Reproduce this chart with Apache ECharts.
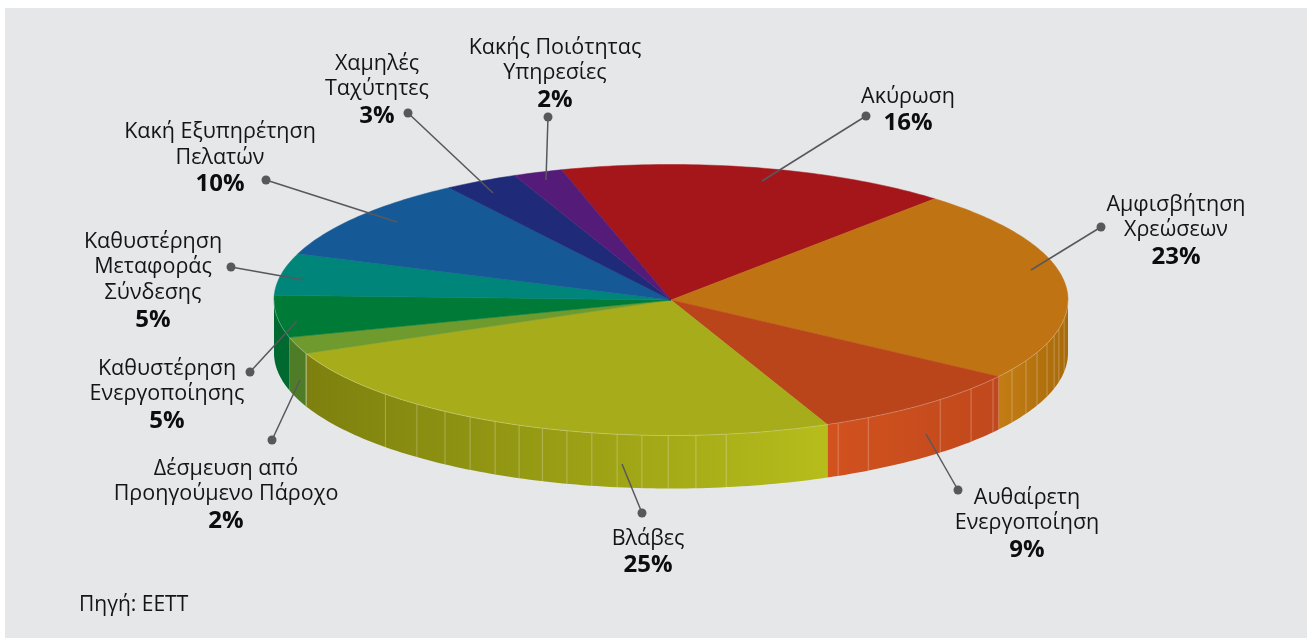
<!DOCTYPE html>
<html><head><meta charset="utf-8">
<style>html,body{margin:0;padding:0;background:#fff}#c{width:1307px;height:638px}</style>
<script src="https://cdn.jsdelivr.net/npm/echarts@6/dist/echarts.min.js"></script>
</head><body><div id="c"></div>
<script>
// Data, clockwise from the top of the pie
const categories = [
  ['Ακύρωση'],
  ['Αμφισβήτηση','Χρεώσεων'],
  ['Αυθαίρετη','Ενεργοποίηση'],
  ['Βλάβες'],
  ['Δέσμευση από','Προηγούμενο Πάροχο'],
  ['Καθυστέρηση','Ενεργοποίησης'],
  ['Καθυστέρηση','Μεταφοράς','Σύνδεσης'],
  ['Κακή Εξυπηρέτηση','Πελατών'],
  ['Χαμηλές','Ταχύτητες'],
  ['Κακής Ποιότητας','Υπηρεσίες']
];
const values = [16,23,9,25,2,5,5,10,3,2];
const sourceNote = 'Πηγή: ΕΕΤΤ';

// Style
const topColors = ['#a4161a','#bf7312','#bb451b','#a6ac1a','#6f9b2e','#007a37','#00857a','#155a96','#1f2a78','#541c78'];
const wallFrom  = ['#80100f','#a86a0a','#c0481c','#b6bd1b','#4f7d27','#00692f','#006a60','#0f4a7c','#18205f','#40155c'];
const wallTo    = ['#80100f','#c47d14','#d2521f','#7d800e','#4f7d27','#00692f','#006a60','#0f4a7c','#18205f','#40155c'];
// Decorative facet seams on the rim, in degrees clockwise from the top
const seamDeg = [98,102.3,105.2,108.7,112.8,116.6,120.8,125.8,130.9,137.3,150.2,155.1,172,176.4,180.4,184.2,187.8,191.5,195.2,198.9,202.5,206.3,210.4,214.7,219.8,226,246.8];

// Layout
const cx = 671, cy = 300, rx = 397, ry = 135.5, depth = 53, startDeg = 344;
const lineStep = 25.8;
const labelPos = [[908,96.5],[1176,204.5],[1027,497.5],[648,538.5],[226,468.5],[167,368.5],[153,241.5],[220,132],[377,63.5],[555,47.5]];
const leaders = [
  [866,116,762,181],[1101,227,1031,270],[958,490,926,434],[642,513,622,464],[272,440,300,380],
  [250,372,297,321],[231,267,304,280],[266,180,397,222],[408,113,493,193],[548,117,546,180]
];

const total = values.reduce((a,b)=>a+b,0);
const starts = [];
values.reduce((acc,v,i)=>{starts[i]=acc;return acc+v;},0);
const toDeg = v => startDeg + v/total*360;
const pt = (deg,dy) => { const r=deg*Math.PI/180; return [cx+rx*Math.sin(r), cy-ry*Math.cos(r)+(dy||0)]; };
function arc(a0,a1,dy){const n=Math.max(2,Math.ceil(Math.abs(a1-a0)/1));const o=[];for(let i=0;i<=n;i++)o.push(pt(a0+(a1-a0)*i/n,dy));return o;}

function renderItem(params, api){
  const i = params.dataIndex;
  const v = api.value(0);
  const a0 = toDeg(starts[i]), a1 = a0 + v/total*360;
  const children = [];
  // side wall (visible half only)
  [[a0,a1],[a0-360,a1-360],[a0+360,a1+360]].forEach(([s,e])=>{
    const w0=Math.max(s,90), w1=Math.min(e,270);
    if(w1<=w0) return;
    const xa=pt(w0)[0], xb=pt(w1)[0];
    const fill=new echarts.graphic.LinearGradient(xa,0,xb,0,[{offset:0,color:wallFrom[i]},{offset:1,color:wallTo[i]}],true);
    children.push({type:'polygon',shape:{points:arc(w0,w1,0).concat(arc(w1,w0,depth))},style:{fill:fill}});
    seamDeg.filter(d=>d>w0&&d<w1+0.01).forEach(d=>{
      const A=pt(d,0),B=pt(d,depth);
      children.push({type:'line',z2:1,shape:{x1:A[0],y1:A[1],x2:B[0],y2:B[1]},style:{stroke:'rgba(255,255,255,0.28)',lineWidth:1}});
    });
    children.push({type:'polyline',shape:{points:arc(w0,w1,0)},z2:3,style:{stroke:'rgba(255,255,255,0.35)',lineWidth:0.7,fill:null}});
  });
  // top face
  children.push({type:'polygon',z2:2,shape:{points:[[cx,cy]].concat(arc(a0,a1,0))},style:{fill:topColors[i],stroke:topColors[i],lineWidth:0.5}});
  return {type:'group',children};
}

function renderLabel(params, api){
  const i = params.dataIndex;
  const children = [];
  const [x,y0] = labelPos[i];
  const lines = categories[i];
  lines.forEach((t,k)=>children.push({type:'text',style:{text:t,x:x,y:y0+k*lineStep,align:'center',verticalAlign:'middle',font:'21.5px "Open Sans"',fill:'#151515'}}));
  children.push({type:'text',style:{text:api.value(0)+'%',x:x,y:y0+lines.length*lineStep+1,align:'center',verticalAlign:'middle',font:'bold 24px "Open Sans"',fill:'#0d0d0d'}});
  const L=leaders[i];
  children.push({type:'line',shape:{x1:L[0],y1:L[1],x2:L[2],y2:L[3]},style:{stroke:'#58585c',lineWidth:1.5}});
  children.push({type:'circle',shape:{cx:L[0],cy:L[1],r:4.5},style:{fill:'#58585c'}});
  return {type:'group',children};
}

const chart = echarts.init(document.getElementById('c'),null,{renderer:'canvas'});
chart.setOption({
  animation:false,
  backgroundColor:'#ffffff',
  graphic:[
    {type:'rect',z:-10,shape:{x:5,y:8,width:1302,height:630},style:{fill:'#e6e7e9'},silent:true},
    {type:'text',z:10,style:{text:sourceNote,x:79,y:605,verticalAlign:'middle',font:'21px "Open Sans"',fill:'#151515'},silent:true}
  ],
  series:[
    {type:'custom',name:'pie',coordinateSystem:'none',silent:true,z:2,renderItem:renderItem,data:values.map((v,i)=>({name:categories[i].join(' '),value:[v]}))},
    {type:'custom',name:'labels',coordinateSystem:'none',silent:true,z:5,renderItem:renderLabel,data:values.map((v,i)=>({name:categories[i].join(' '),value:[v]}))}
  ]
});
</script></body></html>
